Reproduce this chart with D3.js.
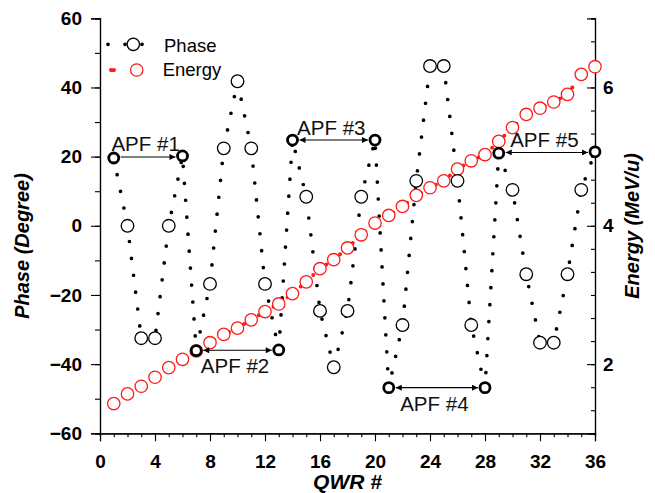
<!DOCTYPE html>
<html>
<head>
<meta charset="utf-8">
<script src="https://cdn.jsdelivr.net/npm/d3@7/dist/d3.min.js"></script>
<style>
  html, body { margin: 0; padding: 0; background: #fff; }
  svg { display: block; }
  text { font-family: "Liberation Sans", Arial, Helvetica, sans-serif; }
</style>
</head>
<body>
<svg id="chart" width="655" height="493"></svg>
<script>
// ---- Data ----
const qwr = [1,2,3,4,5,6,7,8,9,10,11,12,13,14,15,16,17,18,19,20,21,22,23,24,25,26,27,28,29,30,31,32,33,34,35,36];
const phase = [19.6, 0, -32.5, -32.5, 0, 20.2, -36.1, -16.8, 22.4, 41.8, 22.4, -16.8, -35.9, 24.8, 8.4, -24.6, -40.9, -24.6, 8.4, 24.8,
               -46.8, -28.7, 13, 46.2, 46.2, 13, -28.7, -46.8, 21, 10.4, -14, -33.8, -33.8, -14, 10.4, 21.4];
const energy = [1.43, 1.57, 1.68, 1.81, 1.95, 2.07, 2.19, 2.31, 2.43, 2.52, 2.64, 2.76, 2.87, 3.02, 3.19, 3.38, 3.51, 3.68, 3.87, 4.04,
                4.15, 4.28, 4.44, 4.55, 4.65, 4.82, 4.94, 5.03, 5.22, 5.42, 5.61, 5.70, 5.79, 5.90, 6.19, 6.30];
const apfCavities = [1, 6, 7, 13, 14, 20, 21, 28, 29, 36];
const apfLabels = ["APF #1", "APF #2", "APF #3", "APF #4", "APF #5"];
const apfFrom = [1, 7, 14, 21, 29];
const apfTo = [6, 13, 20, 28, 36];
const apfAbove = [true, false, true, false, true];
const xTicks = [0, 4, 8, 12, 16, 20, 24, 28, 32, 36];
const phaseTicks = [-60, -40, -20, 0, 20, 40, 60];
const energyTicks = [2, 4, 6];
const seriesNames = ["Phase", "Energy"];

// ---- Scales ----
const svg = d3.select("#chart");
const x = d3.scaleLinear().domain([0, 36]).range([100, 595]);
const yL = d3.scaleLinear().domain([-60, 60]).range([433.3, 18.3]);
const yR = d3.scaleLinear().domain([1, 7]).range([433.3, 18.3]);

function styleAxis(g) {
  g.select(".domain").attr("stroke", "#000").attr("stroke-width", 1.2);
  g.selectAll(".tick line").attr("stroke", "#000").attr("stroke-width", 1.1);
  g.selectAll("text").attr("font-size", "19px").attr("font-weight", "bold")
    .attr("fill", "#000").attr("font-family", '"Liberation Sans", Arial, sans-serif');
}

// minor ticks
svg.append("g").attr("transform", "translate(100,0)")
  .call(d3.axisLeft(yL).tickValues(d3.range(-60, 61, 10)).tickSize(5).tickFormat(""))
  .call(styleAxis);
svg.append("g").attr("transform", "translate(595,0)")
  .call(d3.axisRight(yR).tickValues(d3.range(0, 19).map(i => 1 + i / 3)).tickSize(-4).tickFormat(""))
  .call(styleAxis);
svg.append("g").attr("transform", "translate(0,433.3)")
  .call(d3.axisBottom(x).tickValues(d3.range(0, 37, 1)).tickSize(4).tickFormat(""))
  .call(styleAxis);

// major ticks
svg.append("g").attr("transform", "translate(100,0)")
  .call(d3.axisLeft(yL).tickValues(phaseTicks).tickSize(9).tickPadding(9).tickFormat(d3.format("d")))
  .call(styleAxis);
svg.append("g").attr("transform", "translate(595,0)")
  .call(d3.axisRight(yR).tickValues(energyTicks).tickSize(-8).tickPadding(8).tickFormat(d3.format("d")))
  .call(styleAxis);
svg.append("g").attr("transform", "translate(0,433.3)")
  .call(d3.axisBottom(x).tickValues(xTicks).tickSize(8).tickPadding(13).tickFormat(d3.format("d")))
  .call(styleAxis);

// axis titles
svg.append("text").attr("transform", "translate(29,246) rotate(-90)")
  .attr("text-anchor", "middle").attr("font-size", "20px").attr("font-weight", "bold").attr("font-style", "italic")
  .text("Phase (Degree)");
svg.append("text").attr("transform", "translate(639,226) rotate(-90)")
  .attr("text-anchor", "middle").attr("font-size", "20px").attr("font-weight", "bold").attr("font-style", "italic")
  .text("Energy (MeV/u)");
svg.append("text").attr("x", 347.5).attr("y", 489)
  .attr("text-anchor", "middle").attr("font-size", "21px").attr("font-weight", "bold").attr("font-style", "italic")
  .text("QWR #");

// ---- Series ----
const phaseLine = d3.line().x((d, i) => x(qwr[i])).y(d => yL(d));
const energyLine = d3.line().x((d, i) => x(qwr[i])).y(d => yR(d));

svg.append("path").datum(phase).attr("d", phaseLine)
  .attr("fill", "none").attr("stroke", "#000").attr("stroke-width", 3.7)
  .attr("stroke-linecap", "round").attr("stroke-dasharray", "0,17");

svg.append("path").datum(energy).attr("d", energyLine)
  .attr("fill", "none").attr("stroke", "#ff1a1a").attr("stroke-width", 4)
  .attr("stroke-linecap", "round").attr("stroke-dasharray", "0,17");

svg.append("g").selectAll("circle").data(energy).join("circle")
  .attr("cx", (d, i) => x(qwr[i])).attr("cy", d => yR(d)).attr("r", 6.2)
  .attr("fill", "#fff").attr("stroke", "#ff1a1a").attr("stroke-width", 1.3);

svg.append("g").selectAll("circle").data(phase).join("circle")
  .attr("cx", (d, i) => x(qwr[i])).attr("cy", d => yL(d))
  .attr("r", (d, i) => apfCavities.includes(qwr[i]) ? 5 : 6.3)
  .attr("fill", "#fff").attr("stroke", "#000")
  .attr("stroke-width", (d, i) => apfCavities.includes(qwr[i]) ? 2.8 : 1.3);

// ---- APF annotations ----
const defs = svg.append("defs");
defs.append("marker").attr("id", "ah").attr("viewBox", "0 0 10 10").attr("refX", 10).attr("refY", 5)
  .attr("markerWidth", 9).attr("markerHeight", 6).attr("markerUnits", "userSpaceOnUse")
  .attr("orient", "auto-start-reverse")
  .append("path").attr("d", "M0,0 L10,5 L0,10 Z").attr("fill", "#000");

apfLabels.forEach((lab, k) => {
  const i0 = qwr.indexOf(apfFrom[k]);
  const i1 = qwr.indexOf(apfTo[k]);
  const yA = yL((phase[i0] + phase[i1]) / 2);
  const x0 = x(apfFrom[k]) + 7;
  const x1 = x(apfTo[k]) - 7;
  const ln = svg.append("line").attr("x1", x0).attr("x2", x1).attr("y1", yA).attr("y2", yA)
    .attr("stroke", "#000").attr("stroke-width", 1.1)
    .attr("marker-end", "url(#ah)");
  if (k > 0) ln.attr("marker-start", "url(#ah)");
  svg.append("text").attr("x", (x0 + x1) / 2 - 2.5).attr("y", apfAbove[k] ? yA - 5.5 : yA + 23)
    .attr("text-anchor", "middle").attr("font-size", "20.5px").attr("fill", "#111").text(lab);
});

// ---- Legend ----
const lg = svg.append("g");
lg.append("path").attr("d", "M108,44.3 L143,44.3").attr("stroke", "#000").attr("stroke-width", 3.7)
  .attr("stroke-linecap", "round").attr("stroke-dasharray", "0,17").attr("fill", "none");
lg.append("circle").attr("cx", 133.3).attr("cy", 44.3).attr("r", 6.2).attr("fill", "#fff")
  .attr("stroke", "#000").attr("stroke-width", 1.3);
lg.append("text").attr("x", 164).attr("y", 51.5).attr("font-size", "18.5px").text(seriesNames[0]);

lg.append("path").attr("d", "M111,70 L144,70").attr("stroke", "#ff1a1a").attr("stroke-width", 4)
  .attr("stroke-linecap", "round").attr("stroke-dasharray", "0,3,0,30").attr("fill", "none");
lg.append("circle").attr("cx", 136.7).attr("cy", 70).attr("r", 6.2).attr("fill", "#fff")
  .attr("stroke", "#ff1a1a").attr("stroke-width", 1.3);
lg.append("text").attr("x", 162.7).attr("y", 75.5).attr("font-size", "18.5px").text(seriesNames[1]);
</script>
</body>
</html>
